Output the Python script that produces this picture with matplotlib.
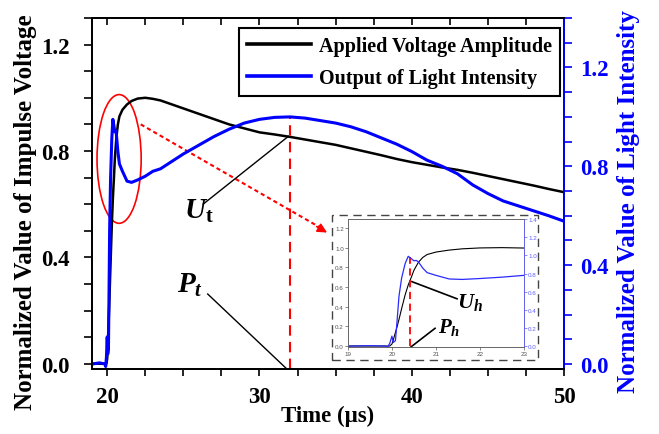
import matplotlib
matplotlib.use("Agg")
import matplotlib.pyplot as plt
from matplotlib.patches import Ellipse, Rectangle
from matplotlib.ticker import MultipleLocator

plt.rcParams['font.family'] = ['Liberation Serif', 'DejaVu Serif']
plt.rcParams['font.weight'] = 'bold'
plt.rcParams['axes.labelweight'] = 'bold'
plt.rcParams['mathtext.fontset'] = 'custom'
plt.rcParams['mathtext.it'] = 'Liberation Serif:bold:italic'
plt.rcParams['mathtext.rm'] = 'Liberation Serif:bold'
plt.rcParams['mathtext.bf'] = 'Liberation Serif:bold'

# time axis (us) and normalized curves
time_us = [19.0, 19.5, 19.85, 19.9, 19.95, 20.0, 20.03, 20.08, 20.12, 20.16,
           20.22, 20.3, 20.37, 20.45, 20.5, 20.55, 20.6, 20.7, 20.8, 21.0,
           21.3, 21.6, 22.0, 22.5, 23.0, 23.5, 24, 25, 26, 27, 28, 29, 30,
           31, 32, 33, 34, 35, 36, 37, 38, 39, 40, 41, 42, 43, 44, 45, 46,
           47, 48, 49, 50]

voltage = [0.0, 0.0, 0.0, 0.0, 0.0, 0.02, 0.06, 0.14, 0.2, 0.27,
           0.38, 0.52, 0.62, 0.71, 0.77, 0.81, 0.85, 0.9, 0.93, 0.955,
           0.975, 0.988, 0.997, 1.0, 0.996, 0.99, 0.98, 0.96, 0.94, 0.92, 0.9, 0.885, 0.87,
           0.862, 0.853, 0.843, 0.833, 0.823, 0.81, 0.797, 0.784, 0.77, 0.758, 0.748, 0.738,
           0.729, 0.718, 0.706, 0.694, 0.682, 0.67, 0.657, 0.645]

light = [0.0, 0.005, 0.0, -0.01, 0.03, 0.11, 0.04, 0.06, 0.3, 0.55,
         0.75, 0.91, 0.99, 0.96, 0.94, 0.945, 0.93, 0.86, 0.81, 0.78,
         0.74, 0.735, 0.745, 0.76, 0.78, 0.79, 0.81, 0.85, 0.885, 0.92, 0.95, 0.975, 0.99,
         0.998, 1.0, 0.995, 0.985, 0.975, 0.96, 0.94, 0.915, 0.89, 0.86, 0.825, 0.8,
         0.77, 0.725, 0.69, 0.66, 0.64, 0.62, 0.6, 0.578]

BLUE = '#0000ff'
RED = '#ff0000'

fig = plt.figure(figsize=(6.59, 4.35), dpi=100)
ax = fig.add_axes([0.1396, 0.1494, 0.7162, 0.8069])
ax2 = ax.twinx()

l1, = ax.plot(time_us, voltage, color='black', lw=1.8, label='Applied Voltage Amplitude')
l2, = ax2.plot(time_us, light, color=BLUE, lw=2.2, label='Output of Light Intensity')

ax.set_xlim(19, 50)
ax.set_ylim(-0.02, 1.30)
ax2.set_ylim(-0.02, 1.40)

ax.xaxis.set_major_locator(MultipleLocator(10))
ax.xaxis.set_minor_locator(MultipleLocator(2.5))
ax.yaxis.set_major_locator(MultipleLocator(0.4))
ax.yaxis.set_minor_locator(MultipleLocator(0.1))
ax2.yaxis.set_major_locator(MultipleLocator(0.4))
ax2.yaxis.set_minor_locator(MultipleLocator(0.1))
ax.yaxis.set_major_formatter(plt.FormatStrFormatter('%.1f'))
ax2.yaxis.set_major_formatter(plt.FormatStrFormatter('%.1f'))

ax.tick_params(axis='x', which='both', direction='out', top=False, length=5, width=1.2,
               labelsize=16.5, pad=7)
ax.tick_params(axis='y', which='both', direction='out', length=6, width=1.2,
               labelsize=16.5, pad=10)
ax2.tick_params(axis='y', which='both', direction='out', length=6, width=1.2,
                labelsize=16.5, pad=5.5, colors=BLUE)
# top axis ticks point inward (twin shares the x locators)
ax2.xaxis.set_visible(True)
ax2.tick_params(axis='x', which='both', bottom=False, top=True, labelbottom=False,
                labeltop=False, direction='in', length=5, width=1.2)

for s in ax.spines.values():
    s.set_linewidth(1.3)
for s in ax2.spines.values():
    s.set_linewidth(1.3)
ax2.spines['right'].set_color(BLUE)

ax.set_xlabel('Time (μs)', fontsize=16.5, labelpad=-1)
ax.set_ylabel('Normalized Value of Impulse Voltage', fontsize=18)
ax2.set_ylabel('Normalized Value of Light Intensity', fontsize=18, color=BLUE)
ax.yaxis.set_label_coords(-0.117, 0.45)
ax2.yaxis.set_label_coords(1.112, 0.48)

leg = ax2.legend(handles=[l1, l2], loc='upper right', bbox_to_anchor=(0.992, 0.9715),
                 borderaxespad=0, fontsize=14.5, frameon=True, fancybox=False,
                 edgecolor='black', framealpha=1, handlelength=3.2, handletextpad=0.4,
                 labelspacing=0.6, borderpad=0.4)
leg.get_frame().set_linewidth(1.5)
for h in leg.legend_handles:
    h.set_linewidth(2.6)

# annotations on main plot
ax.add_patch(Ellipse((20.78, 0.77), 2.9, 0.484, fill=False, edgecolor=RED, lw=1.2))
ax.plot([22.2, 34.2], [0.90, 0.505], color=RED, lw=1.5, ls=(0, (2, 1.5)))
ax.annotate('', xy=(34.6, 0.488), xytext=(33.6, 0.521),
            arrowprops=dict(arrowstyle='-|>', color=RED, lw=1.2, mutation_scale=14))
ax.plot([32, 32], [-0.02, 0.93], color=RED, lw=1.5, ls=(0, (5, 3)))
ax.plot([26.3, 31.9], [0.60, 0.855], color='black', lw=1)
ax.text(26.0, 0.575, r'$U_{\mathrm{t}}$', fontsize=21, ha='center', va='center')
ax.plot([26.6, 31.8], [0.262, -0.02], color='black', lw=1)
ax.text(25.45, 0.30, r'$P_t$', fontsize=21, ha='center', va='center')

# inset
fig.add_artist(Rectangle((0.504, 0.170), 0.3126, 0.333, transform=fig.transFigure,
                         fill=False, edgecolor='#444444', lw=1, ls=(0, (6, 4))))
axi = fig.add_axes([0.528, 0.2, 0.267, 0.294])
axi2 = axi.twinx()
axi.plot(time_us, voltage, color='black', lw=0.8)
axi2.plot(time_us, light, color='#2a2aff', lw=0.9)
axi.set_xlim(19, 23)
axi.set_ylim(-0.01, 1.29)
axi2.set_ylim(-0.01, 1.40)
axi.xaxis.set_major_locator(MultipleLocator(1))
axi.yaxis.set_major_locator(MultipleLocator(0.2))
axi2.yaxis.set_major_locator(MultipleLocator(0.2))
axi.yaxis.set_major_formatter(plt.FormatStrFormatter('%.1f'))
axi2.yaxis.set_major_formatter(plt.FormatStrFormatter('%.1f'))
axi.tick_params(labelsize=4.5, length=2, width=0.5, pad=1, colors='#555555')
axi2.tick_params(labelsize=4.5, length=2, width=0.5, pad=1, colors='#6060ff')
for s in axi.spines.values():
    s.set_linewidth(0.6)
    s.set_color('#666666')
for s in axi2.spines.values():
    s.set_linewidth(0.6)
    s.set_color('#666666')
axi2.spines['right'].set_color('#6060ff')
for t in axi.get_xticklabels() + axi.get_yticklabels() + axi2.get_yticklabels():
    t.set_fontweight('normal')
    t.set_family(['Liberation Sans', 'DejaVu Sans'])

axi.plot([20.4, 20.4], [0, 0.9], color=RED, lw=1.3, ls=(0, (4, 2.5)))
axi.plot([20.45, 21.48], [0.655, 0.48], color='black', lw=1.2)
axi.text(21.78, 0.45, r'$U_h$', fontsize=16, ha='center', va='center')
axi.plot([20.43, 20.98], [-0.01, 0.18], color='black', lw=1.2)
axi.text(21.3, 0.2, r'$P_h$', fontsize=15, ha='center', va='center')

fig.savefig('out.png', dpi=100)
